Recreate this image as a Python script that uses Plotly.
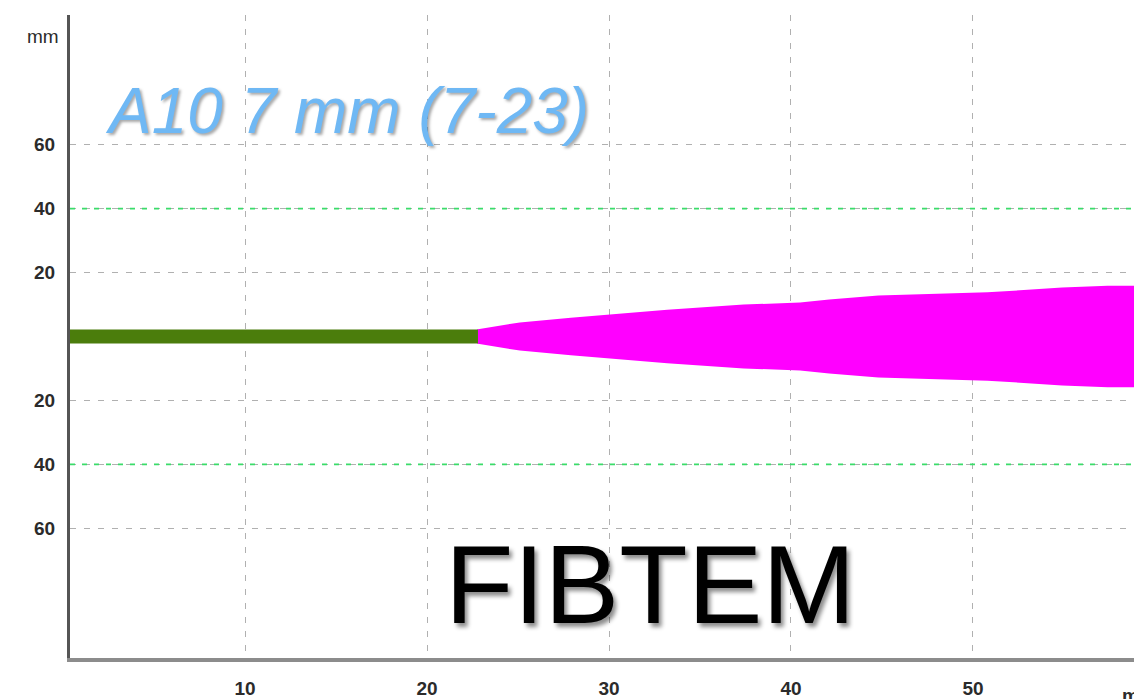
import plotly.graph_objects as go

# ---- data ----
baseline_time = [0.0, 22.8]               # green flat trace (minutes), until clotting time
baseline_amp = [0.0, 0.0]

trace_time = [22.8, 25.1, 27.9, 29.9, 33.2, 37.4, 40.5, 42.1, 44.8, 50.8, 53.0, 54.9, 57.4, 59.0]
trace_amp = [2.3, 4.4, 5.9, 6.9, 8.4, 10.0, 10.6, 11.6, 12.8, 13.8, 14.7, 15.3, 15.9, 15.9]

x_ticks = [10, 20, 30, 40, 50]
y_ticks = [-60, -40, -20, 20, 40, 60]
y_tick_text = ["60", "40", "20", "20", "40", "60"]
ref_lines = [40, -40]                     # green reference range lines

title_text = "A10 7 mm (7-23)"
test_name = "FIBTEM"

# ---- figure ----
fig = go.Figure()

# magenta amplitude envelope (symmetric)
poly_x = trace_time + trace_time[::-1]
poly_y = trace_amp + [-a for a in trace_amp[::-1]]
fig.add_trace(go.Scatter(x=poly_x, y=poly_y, fill="toself", mode="lines",
                         line=dict(width=0, color="#ff00ff"), fillcolor="#ff00ff",
                         hoverinfo="skip", showlegend=False))
fig.add_trace(go.Scatter(x=[trace_time[0]] * 2, y=[-trace_amp[0], trace_amp[0]], mode="lines",
                         line=dict(width=1, color="#ff00ff"), showlegend=False))

# green baseline
fig.add_trace(go.Scatter(x=baseline_time, y=baseline_amp, mode="lines",
                         line=dict(width=14, color="#4b7d0c"), showlegend=False))

# green reference lines
for v in ref_lines:
    fig.add_shape(type="line", xref="paper", x0=0, x1=1, yref="y", y0=v, y1=v,
                  line=dict(color="#3bdc6a", width=1.8, dash="5px,7px"), layer="above")

tick_font = dict(family="Liberation Sans, Arial", size=19, color="#2b2b2b", weight="bold")

fig.update_xaxes(range=[0.38, 58.85], tickvals=x_ticks, ticktext=[str(t) for t in x_ticks],
                 showgrid=True, gridcolor="#b0b0b0", griddash="6px,8px", gridwidth=1.2,
                 showline=True, linecolor="#8c8c8c", linewidth=4, automargin=False,
                 zeroline=False, ticks="", ticklabelstandoff=10, tickfont=tick_font)
fig.update_yaxes(range=[-100.5, 100.5], tickvals=y_ticks, ticktext=y_tick_text,
                 showgrid=True, gridcolor="#b0b0b0", griddash="6px,8px", gridwidth=1.2,
                 showline=True, linecolor="#555555", linewidth=3, automargin=False,
                 zeroline=False, ticks="", ticklabelstandoff=8, tickfont=tick_font)

fig.add_annotation(text="mm", xref="paper", yref="paper", x=-0.008, y=0.966,
                   xanchor="right", yanchor="middle", showarrow=False,
                   font=dict(family="Liberation Sans, Arial", size=19, color="#2b2b2b"))
fig.add_annotation(text="min", xref="paper", yref="paper", x=0.987, y=-0.058,
                   xanchor="left", yanchor="middle", showarrow=False, font=tick_font)

fig.add_annotation(text=f"<i>{title_text}</i>", xref="paper", yref="paper", x=0.2608, y=0.851,
                   xanchor="center", yanchor="middle", showarrow=False,
                   font=dict(family="Liberation Sans, Arial", size=64, color="#6fb8f4",
                             shadow="2px 2px 3px rgba(0,0,0,0.35)"))
fig.add_annotation(text=test_name, xref="paper", yref="paper", x=0.5456, y=0.115,
                   xanchor="center", yanchor="middle", showarrow=False,
                   font=dict(family="Liberation Sans, Arial", size=112, color="#000000",
                             shadow="3px 4px 4px rgba(0,0,0,0.45)"))

fig.update_layout(width=1134, height=699, margin=dict(l=70, r=0, t=15, b=41, autoexpand=False),
                  plot_bgcolor="white", paper_bgcolor="white", showlegend=False)

fig.write_html("out.html", config={"displayModeBar": False},
               post_script="document.body.style.margin='0px';document.body.style.overflow='hidden';")
